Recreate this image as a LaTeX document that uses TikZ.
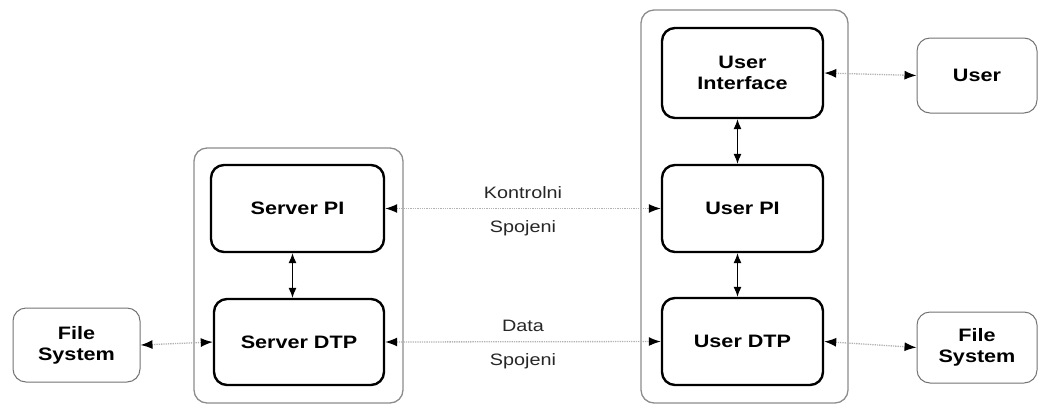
\documentclass[tikz,border=0pt]{standalone}
\usepackage{fontspec}
\setmainfont{Liberation Sans}[FakeStretch=1.2]
\usetikzlibrary{arrows.meta}
\tikzset{
  innerbox/.style={draw=black, line width=2.4pt, rounded corners=13pt, fill=white, font=\fontsize{18}{21}\selectfont\bfseries, align=center},
  outerbox/.style={draw=black!45, line width=1.3pt, rounded corners=13pt},
  extbox/.style={draw=black!55, line width=1pt, rounded corners=13pt, fill=white, font=\fontsize{18}{21}\selectfont\bfseries, align=center},
  link/.style={draw=black!30, line width=1.3pt, densely dotted, {Latex[black,length=12pt,width=9pt]}-{Latex[black,length=12pt,width=9pt]}},
  vlink/.style={draw=black, line width=1pt, {Latex[length=10pt,width=8pt]}-{Latex[length=10pt,width=8pt]}},
  lab/.style={font=\fontsize{16.5}{19}\selectfont, text=black!85}
}
\begin{document}
\begin{tikzpicture}[x=1pt,y=-1pt]
\useasboundingbox (0,0) rectangle (1038,405);
% containers
\node[outerbox, minimum width=209, minimum height=255] (lc) at (298.5,275.5) {};
\node[outerbox, minimum width=207, minimum height=393] (rc) at (744.5,206.5) {};
% inner boxes
\node[innerbox, minimum width=173, minimum height=87] (spi) at (297.5,208.5) {Server PI};
\node[innerbox, minimum width=170, minimum height=86] (sdtp) at (299,342) {Server DTP};
\node[innerbox, minimum width=161, minimum height=90] (ui) at (742.5,73) {User\\Interface};
\node[innerbox, minimum width=161, minimum height=87] (upi) at (742.5,208.5) {User PI};
\node[innerbox, minimum width=161, minimum height=87] (udtp) at (742.5,341.5) {User DTP};
% external boxes
\node[extbox, minimum width=120, minimum height=75] (user) at (977,75.5) {User};
\node[extbox, minimum width=127, minimum height=74] (lfs) at (76.5,345) {File\\System};
\node[extbox, minimum width=120, minimum height=71] (rfs) at (977,347.5) {File\\System};
% links
\draw[link] (spi.east) -- node[lab, above=6pt] (k1) {Kontrolni} node[lab, below=8pt] (k2) {Spojeni} (upi.west);
\draw[link] (sdtp.east) -- node[lab, above=6pt] (d1) {Data} node[lab, below=8pt] (d2) {Spojeni} (udtp.west);
\draw[link] (lfs.east) -- (sdtp.west);
\draw[link] (udtp.east) -- (rfs.west);
\draw[link] (ui.east) -- (user.west);
% vertical links
\draw[vlink] ([xshift=-5pt]spi.south) -- ([xshift=-5pt]spi.south |- sdtp.north);
\draw[vlink] ([xshift=-5pt]ui.south) -- ([xshift=-5pt]upi.north);
\draw[vlink] ([xshift=-5pt]upi.south) -- ([xshift=-5pt]udtp.north);
\end{tikzpicture}
\end{document}
